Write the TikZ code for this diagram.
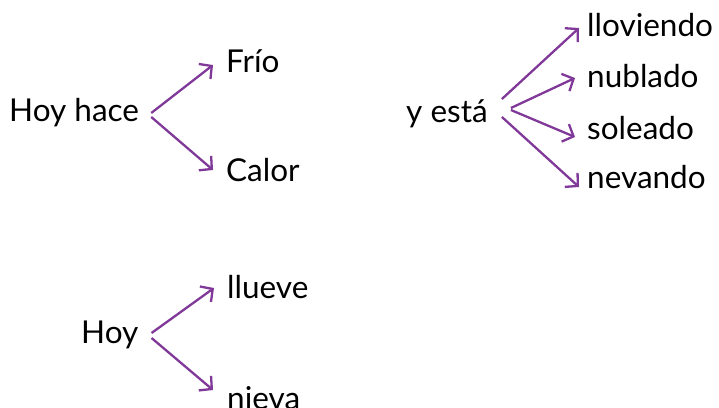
\documentclass[tikz,border=0pt]{standalone}
\usepackage{fontspec}
\setmainfont{Lato}
\usetikzlibrary{arrows.meta}
\definecolor{violeta}{RGB}{128,57,153}

\begin{document}
\begin{tikzpicture}[x=1pt,y=-1pt,>={Straight Barb[length=9pt,width=19pt]},
  word/.style={anchor=base west,inner sep=0pt,font=\fontsize{31.5}{37}\selectfont},
  arr/.style={->,draw=violeta,line width=2.3pt}]
  \useasboundingbox (0,0) rectangle (719,407);

  \node[word] (hace) at (9,121) {Hoy hace};
  \node[word] (frio) at (226,72) {Frío};
  \node[word] (calor) at (226,181) {Calor};

  \node[word] (esta) at (406,122) {y está};
  \node[word] (lloviendo) at (587,36) {lloviendo};
  \node[word] (nublado) at (587,87) {nublado};
  \node[word] (soleado) at (587,139) {soleado};
  \node[word] (nevando) at (587,188) {nevando};

  \node[word] (hoy) at (81,343) {Hoy};
  \node[word] (llueve) at (227,298) {llueve};
  \node[word] (nieva) at (227,409) {nieva};

  \draw[arr] ([xshift=12pt,yshift=8pt]hace.base east) -- ([xshift=-13pt,yshift=7pt]frio.base west);
  \draw[arr] ([xshift=12pt,yshift=4pt]hace.base east) -- ([xshift=-13pt,yshift=11pt]calor.base west);
  \draw[arr] ([xshift=14pt,yshift=23pt]esta.base east) -- ([xshift=-8pt,yshift=8pt]lloviendo.base west);
  \draw[arr] ([xshift=23pt,yshift=14pt]esta.base east) -- ([xshift=-12pt,yshift=9pt]nublado.base west);
  \draw[arr] ([xshift=23pt,yshift=12pt]esta.base east) -- ([xshift=-12pt,yshift=2pt]soleado.base west);
  \draw[arr] ([xshift=14pt,yshift=5pt]esta.base east) -- ([xshift=-8pt,yshift=1pt]nevando.base west);
  \draw[arr] ([xshift=13pt,yshift=10pt]hoy.base east) -- ([xshift=-13pt,yshift=10pt]llueve.base west);
  \draw[arr] ([xshift=13pt,yshift=5pt]hoy.base east) -- ([xshift=-14pt,yshift=19pt]nieva.base west);
\end{tikzpicture}
\end{document}
